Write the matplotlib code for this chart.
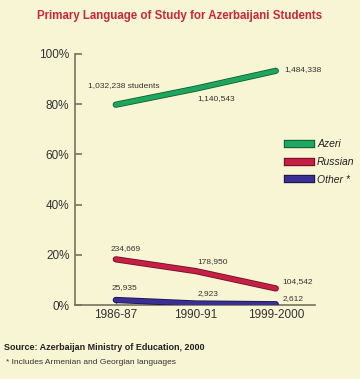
import matplotlib
matplotlib.use("Agg")
import matplotlib.pyplot as plt
import matplotlib.patheffects as pe
from matplotlib.lines import Line2D

years = ["1986-87", "1990-91", "1999-2000"]
azeri_pct = [79.8, 86.2, 93.3]
russian_pct = [18.2, 13.5, 6.6]
other_pct = [2.0, 0.6, 0.3]
azeri_lbl = ["1,032,238 students", "1,140,543", "1,484,338"]
russian_lbl = ["234,669", "178,950", "104,542"]
other_lbl = ["25,935", "2,923", "2,612"]
yticks = [0, 20, 40, 60, 80, 100]

bg = "#F7F5D3"
axc = "#77735E"
c_az, c_az_e = "#1FA65E", "#0D5E33"
c_ru, c_ru_e = "#C61F45", "#6E0F24"
c_ot, c_ot_e = "#3A2F92", "#1A1450"

fam = ["Liberation Sans", "DejaVu Sans"]

fig = plt.figure(figsize=(3.6, 3.79), dpi=100, facecolor=bg)
ax = fig.add_axes([75/360, 1-305/379, 240/360, 251/379])
ax.set_facecolor(bg)
x = list(range(len(years)))

for vals, c, ce in [(azeri_pct, c_az, c_az_e), (russian_pct, c_ru, c_ru_e), (other_pct, c_ot, c_ot_e)]:
    ax.plot(x, vals, color=c, lw=3.3, solid_capstyle="round", zorder=3,
            path_effects=[pe.Stroke(linewidth=4.5, foreground=ce), pe.Normal()])

ax.set_xlim(-0.51, 2.49)
ax.set_ylim(0, 100)
ax.set_yticks(yticks)
ax.set_yticklabels([f"{v}%" for v in yticks], fontsize=8.5, color="#333333", family=fam)
ax.set_xticks(x)
ax.set_xticklabels(years, fontsize=8.5, color="#333333", family=fam)
for s in ["top", "right"]:
    ax.spines[s].set_visible(False)
for s in ["left", "bottom"]:
    ax.spines[s].set_color(axc)
    ax.spines[s].set_linewidth(1.2)
ax.tick_params(axis="y", direction="in", length=5, color=axc, width=1.2, pad=4)
ax.tick_params(axis="x", direction="in", length=3, color=axc, width=1, pad=3)

def lab(xi, yv, t, dx, dy, ha="left"):
    ax.annotate(t, (xi, yv), xytext=(dx, dy), textcoords="offset points",
                fontsize=6, color="#333333", ha=ha, va="center", family=fam)

lab(0, azeri_pct[0], azeri_lbl[0], -20, 14)
lab(1, azeri_pct[1], azeri_lbl[1], 1, -7)
lab(2, azeri_pct[2], azeri_lbl[2], 6, 1)
lab(0, russian_pct[0], russian_lbl[0], -4, 8)
lab(1, russian_pct[1], russian_lbl[1], 1, 7)
lab(2, russian_pct[2], russian_lbl[2], 5, 5)
lab(0, other_pct[0], other_lbl[0], -3, 9)
lab(1, other_pct[1], other_lbl[1], 1, 7)
lab(2, other_pct[2], other_lbl[2], 5, 4)

handles = [Line2D([], [], color=c, lw=4.5, path_effects=[pe.Stroke(linewidth=6, foreground=ce), pe.Normal()])
           for c, ce in [(c_az, c_az_e), (c_ru, c_ru_e), (c_ot, c_ot_e)]]
leg = fig.legend(handles, ["Azeri", "Russian", "Other *"], loc="upper left",
                 bbox_to_anchor=(279/360, 1-130/379), frameon=False,
                 handlelength=2.2, handletextpad=0.55, labelspacing=0.75,
                 prop={"family": fam, "style": "italic", "size": 7.5})
for t in leg.get_texts():
    t.set_color("#222222")

fig.text(0.5, 1-16/379, "Primary Language of Study for Azerbaijani Students", ha="center", va="center",
         fontsize=8.3, fontweight="bold", color="#C8283C", family=fam)
fig.text(4/360, 1-347/379, "Source: Azerbaijan Ministry of Education, 2000", ha="left", va="center",
         fontsize=6.5, fontweight="bold", color="#222222", family=fam)
fig.text(6/360, 1-363/379, "* Includes Armenian and Georgian languages", ha="left", va="center",
         fontsize=6, color="#333333", family=fam)

fig.savefig("out.png", dpi=100, facecolor=bg)
